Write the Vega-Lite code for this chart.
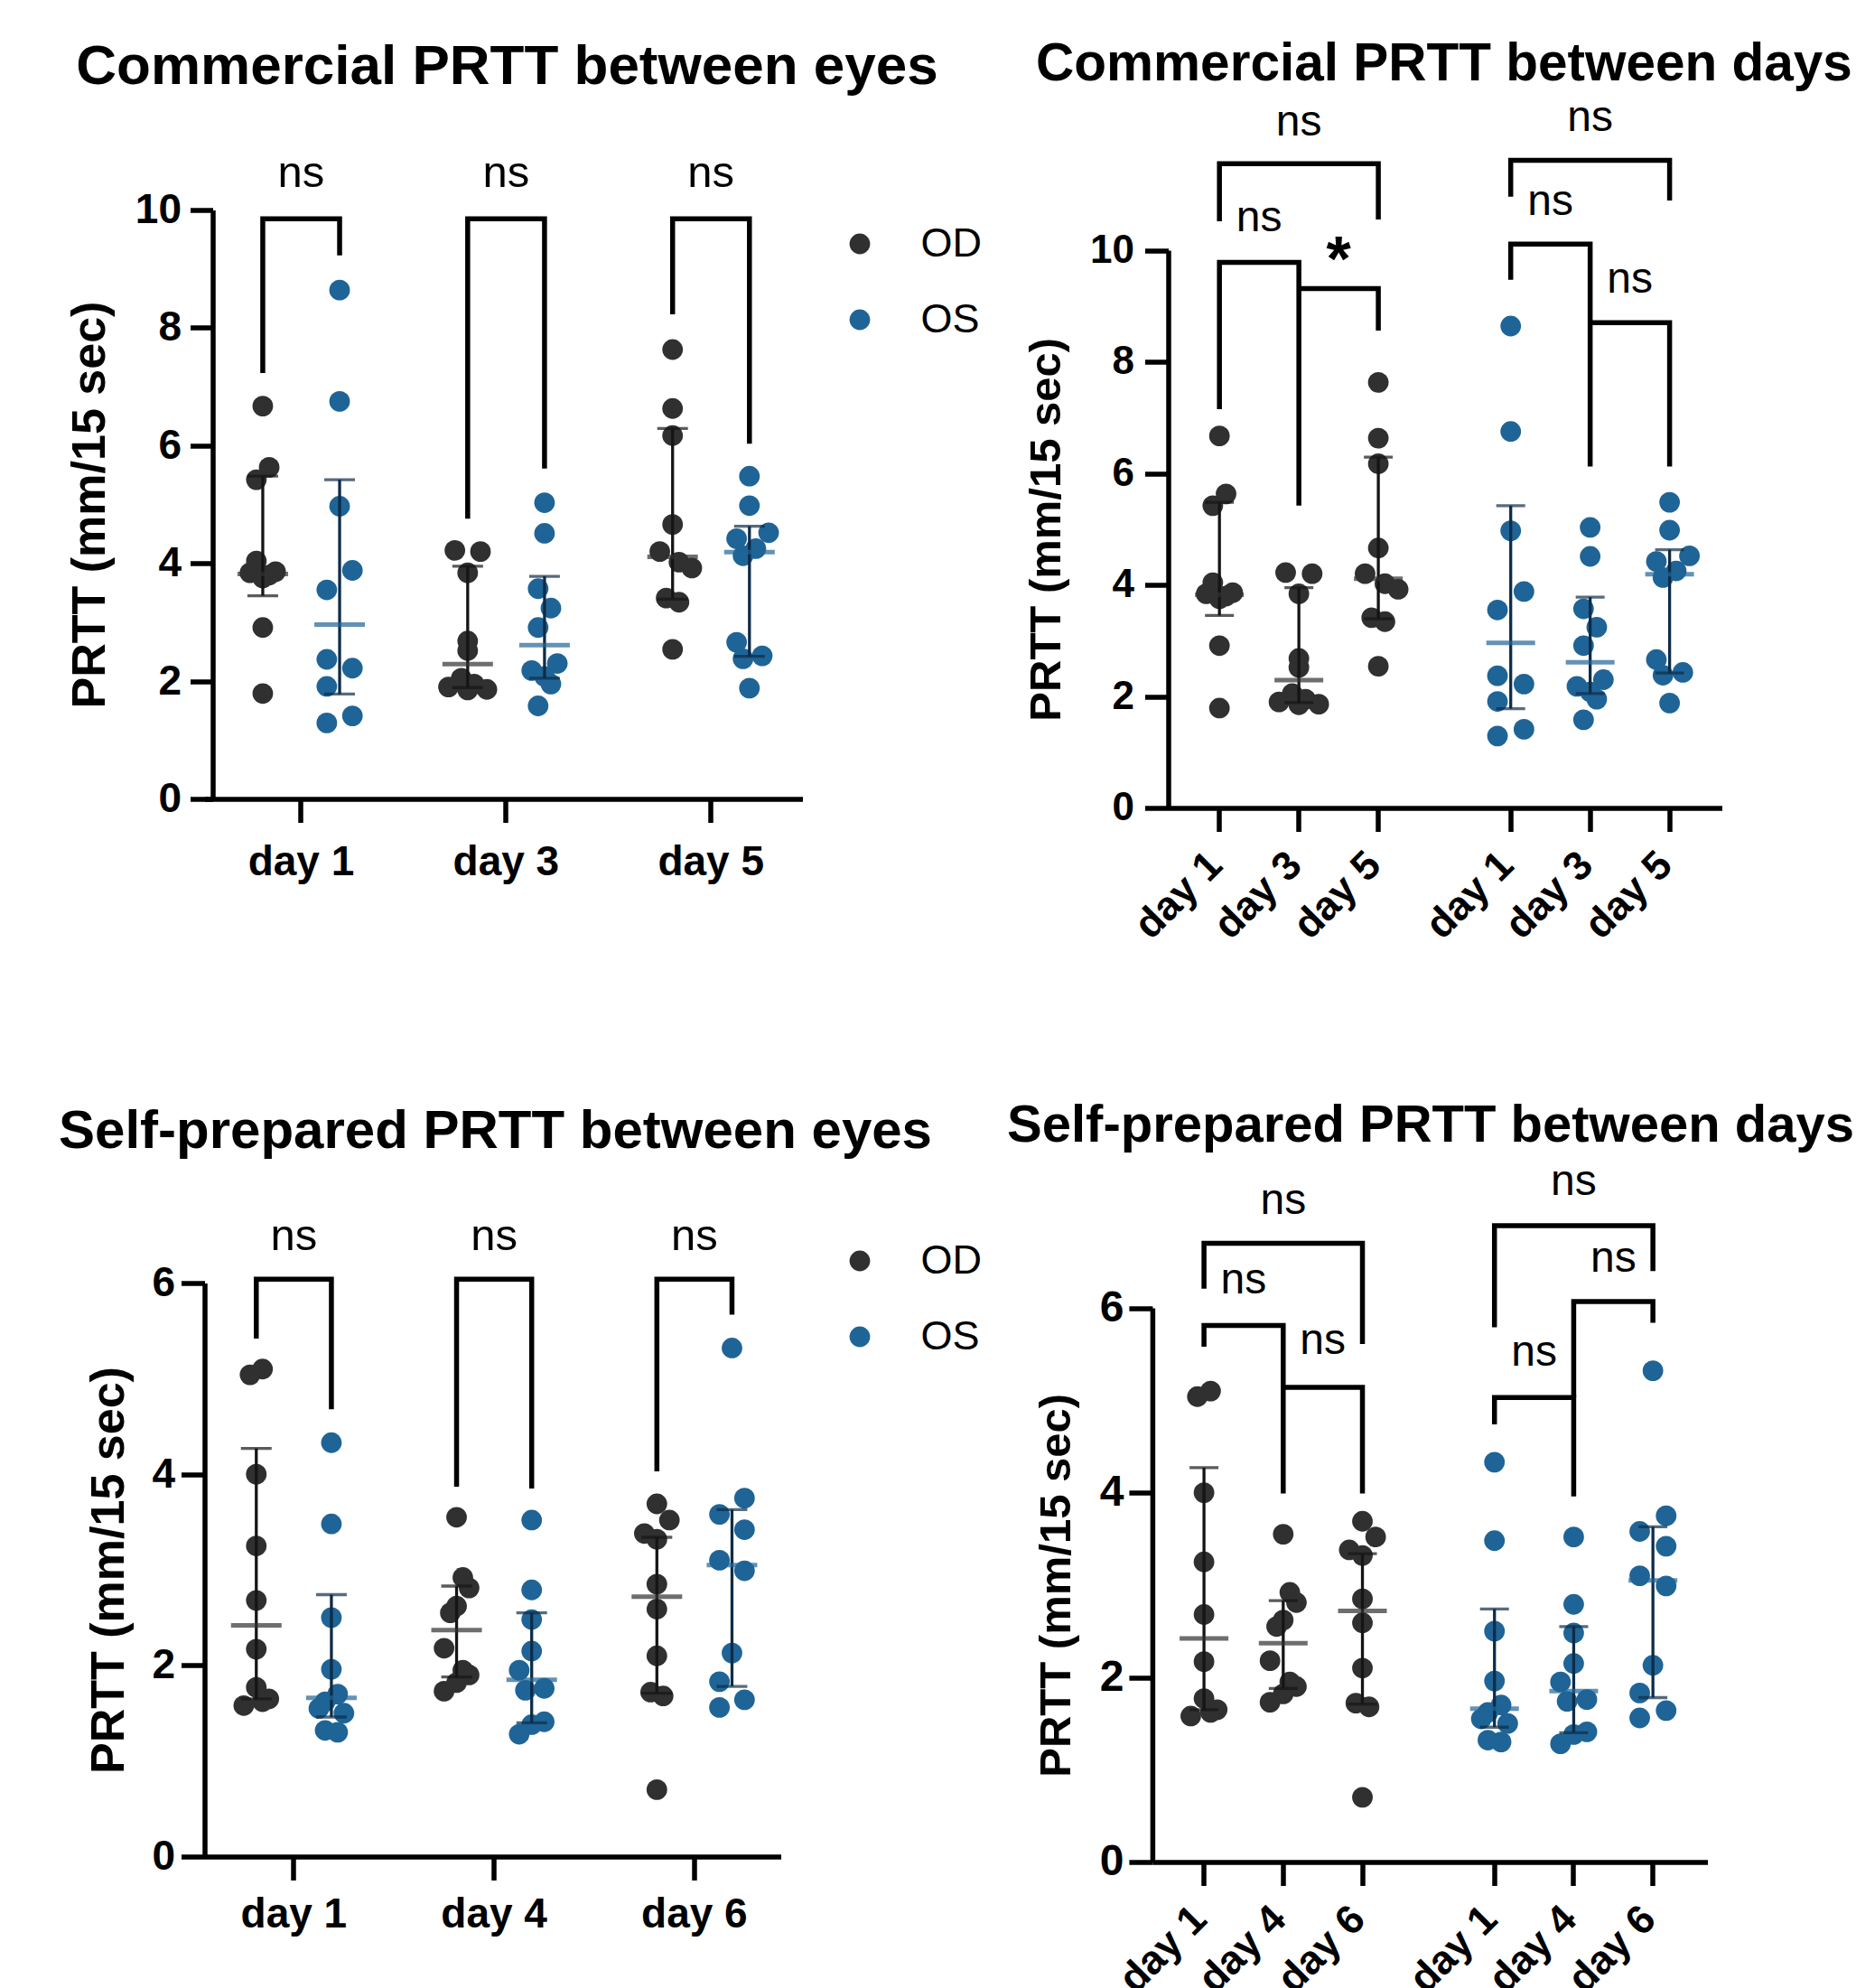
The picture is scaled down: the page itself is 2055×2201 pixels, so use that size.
{
  "$schema": "https://vega.github.io/schema/vega-lite/v6.json",
  "background": "white",
  "padding": {"left": 64.5, "top": 41.5, "right": 0, "bottom": 5},
  "columns": 2,
  "spacing": {"row": 526, "column": 405},
  "bounds": "flush",
  "resolve": {"legend": {"color": "independent"}},
  "datasets": {
    "com": [
      {"eye":"OD","day":"day 1","v":6.67,"k":"day 1|OD|0"},
      {"eye":"OD","day":"day 1","v":5.63,"k":"day 1|OD|1"},
      {"eye":"OD","day":"day 1","v":5.42,"k":"day 1|OD|-1"},
      {"eye":"OD","day":"day 1","v":4.04,"k":"day 1|OD|-1"},
      {"eye":"OD","day":"day 1","v":3.86,"k":"day 1|OD|2"},
      {"eye":"OD","day":"day 1","v":3.84,"k":"day 1|OD|-2"},
      {"eye":"OD","day":"day 1","v":3.80,"k":"day 1|OD|1"},
      {"eye":"OD","day":"day 1","v":3.75,"k":"day 1|OD|0"},
      {"eye":"OD","day":"day 1","v":2.91,"k":"day 1|OD|0"},
      {"eye":"OD","day":"day 1","v":1.79,"k":"day 1|OD|0"},
      {"eye":"OS","day":"day 1","v":8.64,"k":"day 1|OS|0"},
      {"eye":"OS","day":"day 1","v":6.75,"k":"day 1|OS|0"},
      {"eye":"OS","day":"day 1","v":4.97,"k":"day 1|OS|0"},
      {"eye":"OS","day":"day 1","v":3.88,"k":"day 1|OS|2"},
      {"eye":"OS","day":"day 1","v":3.55,"k":"day 1|OS|-2"},
      {"eye":"OS","day":"day 1","v":2.37,"k":"day 1|OS|-2"},
      {"eye":"OS","day":"day 1","v":2.22,"k":"day 1|OS|2"},
      {"eye":"OS","day":"day 1","v":1.91,"k":"day 1|OS|-2"},
      {"eye":"OS","day":"day 1","v":1.41,"k":"day 1|OS|2"},
      {"eye":"OS","day":"day 1","v":1.29,"k":"day 1|OS|-2"},
      {"eye":"OD","day":"day 3","v":4.22,"k":"day 3|OD|-2"},
      {"eye":"OD","day":"day 3","v":4.20,"k":"day 3|OD|2"},
      {"eye":"OD","day":"day 3","v":3.84,"k":"day 3|OD|0"},
      {"eye":"OD","day":"day 3","v":2.68,"k":"day 3|OD|0"},
      {"eye":"OD","day":"day 3","v":2.52,"k":"day 3|OD|0"},
      {"eye":"OD","day":"day 3","v":2.05,"k":"day 3|OD|-1"},
      {"eye":"OD","day":"day 3","v":1.95,"k":"day 3|OD|1"},
      {"eye":"OD","day":"day 3","v":1.90,"k":"day 3|OD|-3"},
      {"eye":"OD","day":"day 3","v":1.86,"k":"day 3|OD|3"},
      {"eye":"OD","day":"day 3","v":1.85,"k":"day 3|OD|0"},
      {"eye":"OS","day":"day 3","v":5.03,"k":"day 3|OS|0"},
      {"eye":"OS","day":"day 3","v":4.51,"k":"day 3|OS|0"},
      {"eye":"OS","day":"day 3","v":3.57,"k":"day 3|OS|-1"},
      {"eye":"OS","day":"day 3","v":3.24,"k":"day 3|OS|1"},
      {"eye":"OS","day":"day 3","v":2.91,"k":"day 3|OS|-1"},
      {"eye":"OS","day":"day 3","v":2.30,"k":"day 3|OS|2"},
      {"eye":"OS","day":"day 3","v":2.18,"k":"day 3|OS|-2"},
      {"eye":"OS","day":"day 3","v":2.08,"k":"day 3|OS|0"},
      {"eye":"OS","day":"day 3","v":1.95,"k":"day 3|OS|1"},
      {"eye":"OS","day":"day 3","v":1.58,"k":"day 3|OS|-1"},
      {"eye":"OD","day":"day 5","v":7.63,"k":"day 5|OD|0"},
      {"eye":"OD","day":"day 5","v":6.63,"k":"day 5|OD|0"},
      {"eye":"OD","day":"day 5","v":6.17,"k":"day 5|OD|0"},
      {"eye":"OD","day":"day 5","v":4.66,"k":"day 5|OD|0"},
      {"eye":"OD","day":"day 5","v":4.20,"k":"day 5|OD|-2"},
      {"eye":"OD","day":"day 5","v":4.02,"k":"day 5|OD|1"},
      {"eye":"OD","day":"day 5","v":3.92,"k":"day 5|OD|3"},
      {"eye":"OD","day":"day 5","v":3.41,"k":"day 5|OD|-1"},
      {"eye":"OD","day":"day 5","v":3.34,"k":"day 5|OD|1"},
      {"eye":"OD","day":"day 5","v":2.54,"k":"day 5|OD|0"},
      {"eye":"OS","day":"day 5","v":5.48,"k":"day 5|OS|0"},
      {"eye":"OS","day":"day 5","v":4.98,"k":"day 5|OS|0"},
      {"eye":"OS","day":"day 5","v":4.52,"k":"day 5|OS|3"},
      {"eye":"OS","day":"day 5","v":4.42,"k":"day 5|OS|-2"},
      {"eye":"OS","day":"day 5","v":4.25,"k":"day 5|OS|1"},
      {"eye":"OS","day":"day 5","v":4.13,"k":"day 5|OS|-1"},
      {"eye":"OS","day":"day 5","v":2.66,"k":"day 5|OS|-2"},
      {"eye":"OS","day":"day 5","v":2.43,"k":"day 5|OS|2"},
      {"eye":"OS","day":"day 5","v":2.38,"k":"day 5|OS|-1"},
      {"eye":"OS","day":"day 5","v":1.88,"k":"day 5|OS|0"}
    ],
    "comS": [
      {"eye":"OD","day":"day 1","med":3.82,"q1":3.45,"q3":5.48,"k":"day 1|OD|0"},
      {"eye":"OS","day":"day 1","med":2.96,"q1":1.78,"q3":5.42,"k":"day 1|OS|0"},
      {"eye":"OD","day":"day 3","med":2.29,"q1":1.89,"q3":3.95,"k":"day 3|OD|0"},
      {"eye":"OS","day":"day 3","med":2.61,"q1":2.05,"q3":3.78,"k":"day 3|OS|0"},
      {"eye":"OD","day":"day 5","med":4.11,"q1":3.39,"q3":6.29,"k":"day 5|OD|0"},
      {"eye":"OS","day":"day 5","med":4.19,"q1":2.42,"q3":4.63,"k":"day 5|OS|0"}
    ],
    "self": [
      {"eye":"OD","day":"day 1","v":5.10,"k":"day 1|OD|1"},
      {"eye":"OD","day":"day 1","v":5.04,"k":"day 1|OD|-1"},
      {"eye":"OD","day":"day 1","v":4.00,"k":"day 1|OD|0"},
      {"eye":"OD","day":"day 1","v":3.25,"k":"day 1|OD|0"},
      {"eye":"OD","day":"day 1","v":2.68,"k":"day 1|OD|0"},
      {"eye":"OD","day":"day 1","v":2.17,"k":"day 1|OD|0"},
      {"eye":"OD","day":"day 1","v":1.77,"k":"day 1|OD|0"},
      {"eye":"OD","day":"day 1","v":1.65,"k":"day 1|OD|2"},
      {"eye":"OD","day":"day 1","v":1.62,"k":"day 1|OD|1"},
      {"eye":"OD","day":"day 1","v":1.58,"k":"day 1|OD|-2"},
      {"eye":"OS","day":"day 1","v":4.33,"k":"day 1|OS|0"},
      {"eye":"OS","day":"day 1","v":3.48,"k":"day 1|OS|0"},
      {"eye":"OS","day":"day 1","v":2.50,"k":"day 1|OS|0"},
      {"eye":"OS","day":"day 1","v":1.96,"k":"day 1|OS|0"},
      {"eye":"OS","day":"day 1","v":1.70,"k":"day 1|OS|1"},
      {"eye":"OS","day":"day 1","v":1.62,"k":"day 1|OS|-1"},
      {"eye":"OS","day":"day 1","v":1.55,"k":"day 1|OS|-2"},
      {"eye":"OS","day":"day 1","v":1.50,"k":"day 1|OS|2"},
      {"eye":"OS","day":"day 1","v":1.32,"k":"day 1|OS|-1"},
      {"eye":"OS","day":"day 1","v":1.30,"k":"day 1|OS|1"},
      {"eye":"OD","day":"day 4","v":3.55,"k":"day 4|OD|0"},
      {"eye":"OD","day":"day 4","v":2.92,"k":"day 4|OD|1"},
      {"eye":"OD","day":"day 4","v":2.81,"k":"day 4|OD|2"},
      {"eye":"OD","day":"day 4","v":2.62,"k":"day 4|OD|0"},
      {"eye":"OD","day":"day 4","v":2.55,"k":"day 4|OD|-1"},
      {"eye":"OD","day":"day 4","v":2.18,"k":"day 4|OD|-2"},
      {"eye":"OD","day":"day 4","v":1.95,"k":"day 4|OD|1"},
      {"eye":"OD","day":"day 4","v":1.90,"k":"day 4|OD|2"},
      {"eye":"OD","day":"day 4","v":1.82,"k":"day 4|OD|0"},
      {"eye":"OD","day":"day 4","v":1.73,"k":"day 4|OD|-2"},
      {"eye":"OS","day":"day 4","v":3.52,"k":"day 4|OS|0"},
      {"eye":"OS","day":"day 4","v":2.79,"k":"day 4|OS|0"},
      {"eye":"OS","day":"day 4","v":2.48,"k":"day 4|OS|0"},
      {"eye":"OS","day":"day 4","v":2.15,"k":"day 4|OS|0"},
      {"eye":"OS","day":"day 4","v":1.95,"k":"day 4|OS|-2"},
      {"eye":"OS","day":"day 4","v":1.76,"k":"day 4|OS|2"},
      {"eye":"OS","day":"day 4","v":1.74,"k":"day 4|OS|-1"},
      {"eye":"OS","day":"day 4","v":1.41,"k":"day 4|OS|2"},
      {"eye":"OS","day":"day 4","v":1.38,"k":"day 4|OS|0"},
      {"eye":"OS","day":"day 4","v":1.28,"k":"day 4|OS|-2"},
      {"eye":"OD","day":"day 6","v":3.69,"k":"day 6|OD|0"},
      {"eye":"OD","day":"day 6","v":3.52,"k":"day 6|OD|2"},
      {"eye":"OD","day":"day 6","v":3.38,"k":"day 6|OD|-2"},
      {"eye":"OD","day":"day 6","v":3.32,"k":"day 6|OD|0"},
      {"eye":"OD","day":"day 6","v":2.85,"k":"day 6|OD|0"},
      {"eye":"OD","day":"day 6","v":2.59,"k":"day 6|OD|0"},
      {"eye":"OD","day":"day 6","v":2.10,"k":"day 6|OD|0"},
      {"eye":"OD","day":"day 6","v":1.72,"k":"day 6|OD|-1"},
      {"eye":"OD","day":"day 6","v":1.68,"k":"day 6|OD|1"},
      {"eye":"OD","day":"day 6","v":0.70,"k":"day 6|OD|0"},
      {"eye":"OS","day":"day 6","v":5.32,"k":"day 6|OS|0"},
      {"eye":"OS","day":"day 6","v":3.75,"k":"day 6|OS|2"},
      {"eye":"OS","day":"day 6","v":3.58,"k":"day 6|OS|-2"},
      {"eye":"OS","day":"day 6","v":3.42,"k":"day 6|OS|2"},
      {"eye":"OS","day":"day 6","v":3.10,"k":"day 6|OS|-2"},
      {"eye":"OS","day":"day 6","v":2.99,"k":"day 6|OS|2"},
      {"eye":"OS","day":"day 6","v":2.13,"k":"day 6|OS|0"},
      {"eye":"OS","day":"day 6","v":1.83,"k":"day 6|OS|-2"},
      {"eye":"OS","day":"day 6","v":1.64,"k":"day 6|OS|2"},
      {"eye":"OS","day":"day 6","v":1.56,"k":"day 6|OS|-2"}
    ],
    "selfS": [
      {"eye":"OD","day":"day 1","med":2.42,"q1":1.65,"q3":4.27,"k":"day 1|OD|0"},
      {"eye":"OS","day":"day 1","med":1.66,"q1":1.46,"q3":2.74,"k":"day 1|OS|0"},
      {"eye":"OD","day":"day 4","med":2.37,"q1":1.88,"q3":2.83,"k":"day 4|OD|0"},
      {"eye":"OS","day":"day 4","med":1.85,"q1":1.40,"q3":2.55,"k":"day 4|OS|0"},
      {"eye":"OD","day":"day 6","med":2.72,"q1":1.71,"q3":3.34,"k":"day 6|OD|0"},
      {"eye":"OS","day":"day 6","med":3.05,"q1":1.78,"q3":3.63,"k":"day 6|OS|0"}
    ],
    "br1": [
      {"b":1,"o":1,"k":"day 1|OD|0","v":7.23},
      {"b":1,"o":2,"k":"day 1|OD|0","v":9.85},
      {"b":1,"o":3,"k":"day 1|OS|0","v":9.85},
      {"b":1,"o":4,"k":"day 1|OS|0","v":9.23},
      {"b":2,"o":1,"k":"day 3|OD|0","v":4.76},
      {"b":2,"o":2,"k":"day 3|OD|0","v":9.85},
      {"b":2,"o":3,"k":"day 3|OS|0","v":9.85},
      {"b":2,"o":4,"k":"day 3|OS|0","v":5.61},
      {"b":3,"o":1,"k":"day 5|OD|0","v":8.23},
      {"b":3,"o":2,"k":"day 5|OD|0","v":9.85},
      {"b":3,"o":3,"k":"day 5|OS|0","v":9.85},
      {"b":3,"o":4,"k":"day 5|OS|0","v":6.03}
    ],
    "ns1": [
      {"k":"day 1|c","v":10.62,"t":"ns"},
      {"k":"day 3|c","v":10.62,"t":"ns"},
      {"k":"day 5|c","v":10.62,"t":"ns"}
    ],
    "br3": [
      {"b":1,"o":1,"k":"day 1|OD|0","v":5.42},
      {"b":1,"o":2,"k":"day 1|OD|0","v":6.04},
      {"b":1,"o":3,"k":"day 1|OS|0","v":6.04},
      {"b":1,"o":4,"k":"day 1|OS|0","v":4.68},
      {"b":2,"o":1,"k":"day 4|OD|0","v":3.87},
      {"b":2,"o":2,"k":"day 4|OD|0","v":6.04},
      {"b":2,"o":3,"k":"day 4|OS|0","v":6.04},
      {"b":2,"o":4,"k":"day 4|OS|0","v":3.85},
      {"b":3,"o":1,"k":"day 6|OD|0","v":4.03},
      {"b":3,"o":2,"k":"day 6|OD|0","v":6.04},
      {"b":3,"o":3,"k":"day 6|OS|0","v":6.04},
      {"b":3,"o":4,"k":"day 6|OS|0","v":5.67}
    ],
    "ns3": [
      {"k":"day 1|c","v":6.49,"t":"ns"},
      {"k":"day 4|c","v":6.49,"t":"ns"},
      {"k":"day 6|c","v":6.49,"t":"ns"}
    ],
    "br2": [
      {"b":"A","o":1,"k":"day 1|OD|0","v":7.15},
      {"b":"A","o":2,"k":"day 1|OD|0","v":9.78},
      {"b":"A","o":3,"k":"day 3|OD|0","v":9.78},
      {"b":"A","o":4,"k":"day 3|OD|0","v":5.42},
      {"b":"B","o":1,"k":"day 3|OD|0","v":9.31},
      {"b":"B","o":2,"k":"day 5|OD|0","v":9.31},
      {"b":"B","o":3,"k":"day 5|OD|0","v":8.56},
      {"b":"C","o":1,"k":"day 1|OD|0","v":10.52},
      {"b":"C","o":2,"k":"day 1|OD|0","v":11.55},
      {"b":"C","o":3,"k":"day 5|OD|0","v":11.55},
      {"b":"C","o":4,"k":"day 5|OD|0","v":10.55},
      {"b":"D","o":1,"k":"day 1|OS|0","v":9.47},
      {"b":"D","o":2,"k":"day 1|OS|0","v":10.11},
      {"b":"D","o":3,"k":"day 3|OS|0","v":10.11},
      {"b":"D","o":4,"k":"day 3|OS|0","v":6.12},
      {"b":"E","o":1,"k":"day 3|OS|0","v":8.70},
      {"b":"E","o":2,"k":"day 5|OS|0","v":8.70},
      {"b":"E","o":3,"k":"day 5|OS|0","v":6.12},
      {"b":"F","o":1,"k":"day 1|OS|0","v":10.96},
      {"b":"F","o":2,"k":"day 1|OS|0","v":11.61},
      {"b":"F","o":3,"k":"day 5|OS|0","v":11.61},
      {"b":"F","o":4,"k":"day 5|OS|0","v":10.89}
    ],
    "ns2": [
      {"k":"OD|a","v":10.57,"t":"ns"},
      {"k":"OD|b","v":9.98,"t":"*"},
      {"k":"day 3|OD|0","v":12.29,"t":"ns"},
      {"k":"OS|a","v":10.86,"t":"ns"},
      {"k":"OS|b","v":9.46,"t":"ns"},
      {"k":"day 3|OS|0","v":12.36,"t":"ns"}
    ],
    "br4": [
      {"b":"A","o":1,"k":"day 1|OD|0","v":5.58},
      {"b":"A","o":2,"k":"day 1|OD|0","v":5.81},
      {"b":"A","o":3,"k":"day 4|OD|0","v":5.81},
      {"b":"A","o":4,"k":"day 4|OD|0","v":3.99},
      {"b":"B","o":1,"k":"day 4|OD|0","v":5.14},
      {"b":"B","o":2,"k":"day 6|OD|0","v":5.14},
      {"b":"B","o":3,"k":"day 6|OD|0","v":3.99},
      {"b":"C","o":1,"k":"day 1|OD|0","v":6.21},
      {"b":"C","o":2,"k":"day 1|OD|0","v":6.70},
      {"b":"C","o":3,"k":"day 6|OD|0","v":6.70},
      {"b":"C","o":4,"k":"day 6|OD|0","v":5.61},
      {"b":"D","o":1,"k":"day 1|OS|0","v":4.74},
      {"b":"D","o":2,"k":"day 1|OS|0","v":5.03},
      {"b":"D","o":3,"k":"day 4|OS|0","v":5.03},
      {"b":"D","o":4,"k":"day 4|OS|0","v":3.96},
      {"b":"E","o":1,"k":"day 4|OS|0","v":5.03},
      {"b":"E","o":2,"k":"day 4|OS|0","v":6.07},
      {"b":"E","o":3,"k":"day 6|OS|0","v":6.07},
      {"b":"E","o":4,"k":"day 6|OS|0","v":5.84},
      {"b":"F","o":1,"k":"day 1|OS|0","v":5.79},
      {"b":"F","o":2,"k":"day 1|OS|0","v":6.89},
      {"b":"F","o":3,"k":"day 6|OS|0","v":6.89},
      {"b":"F","o":4,"k":"day 6|OS|0","v":6.40}
    ],
    "ns4": [
      {"k":"OD|a","v":6.29,"t":"ns"},
      {"k":"OD|b","v":5.64,"t":"ns"},
      {"k":"day 4|OD|0","v":7.16,"t":"ns"},
      {"k":"OS|a","v":5.51,"t":"ns"},
      {"k":"OS|b","v":6.53,"t":"ns"},
      {"k":"day 4|OS|0","v":7.36,"t":"ns"}
    ]
  },
  "concat": [
    {
      "width": 662, "height": 652,
      "title": {"text": "Commercial PRTT between eyes", "fontSize": 62, "offset": 13, "dx": 4, "frame": "group", "baseline": "alphabetic"},
      "layer": [
        {
          "data": {"name": "com"},
          "mark": {"type": "circle", "size": 520, "opacity": 1},
          "encoding": {
            "x": {"field": "k", "type": "nominal", "scale": {"type": "band", "paddingInner": 0, "paddingOuter": 0.685, "align": 0.43,
                  "domain": ["f0","f1","f2","f3","f4","day 1|OD|-3","day 1|OD|-2","day 1|OD|-1","day 1|OD|0","day 1|OD|1","day 1|OD|2","day 1|OD|3","day 1|g1","day 1|g2","day 1|c","day 1|g4","day 1|g5","day 1|OS|-3","day 1|OS|-2","day 1|OS|-1","day 1|OS|0","day 1|OS|1","day 1|OS|2","day 1|OS|3","f5","f6","f7","f8","f9","f10","f11","f12","f13","f14","f15","f16","f17","day 3|OD|-3","day 3|OD|-2","day 3|OD|-1","day 3|OD|0","day 3|OD|1","day 3|OD|2","day 3|OD|3","day 3|g1","day 3|g2","day 3|c","day 3|g4","day 3|g5","day 3|OS|-3","day 3|OS|-2","day 3|OS|-1","day 3|OS|0","day 3|OS|1","day 3|OS|2","day 3|OS|3","f18","f19","f20","f21","f22","f23","f24","f25","f26","f27","f28","f29","f30","day 5|OD|-3","day 5|OD|-2","day 5|OD|-1","day 5|OD|0","day 5|OD|1","day 5|OD|2","day 5|OD|3","day 5|g1","day 5|g2","day 5|c","day 5|g4","day 5|g5","day 5|OS|-3","day 5|OS|-2","day 5|OS|-1","day 5|OS|0","day 5|OS|1","day 5|OS|2","day 5|OS|3","f31","f32","f33","f34"]},
                  "axis": {"title": null, "values": ["day 1|c","day 3|c","day 5|c"], "labelExpr": "split(datum.value, '|')[0]", "labelAngle": 0, "labelOverlap": false, "labelFontSize": 46, "labelPadding": 22, "tickSize": 26}},
            "y": {"field": "v", "type": "quantitative", "scale": {"domain": [0, 10], "nice": false, "zero": false},
                  "axis": {"title": "PRTT (mm/15 sec)", "values": [0,2,4,6,8,10], "format": "d", "offset": -9, "labelFontSize": 46, "labelPadding": 10, "tickSize": 25, "titleFontSize": 52, "titlePadding": 23}},
            "color": {"field": "eye", "type": "nominal", "scale": {"domain": ["OD","OS"], "range": ["#303030","#1f6496"]},
                      "legend": {"orient": "none", "legendX": 703, "legendY": 15, "title": null, "symbolType": "circle", "symbolSize": 520, "symbolStrokeWidth": 0, "symbolOpacity": 1, "labelFontSize": 45, "labelFontWeight": "normal", "labelColor": "black", "labelOffset": 45, "rowPadding": 38, "padding": 0}}
          }
        },
        {
          "data": {"name": "comS"},
          "mark": {"type": "rule", "strokeWidth": 3.3},
          "encoding": {
            "x": {"field": "k", "type": "nominal"},
            "y": {"field": "q1", "type": "quantitative"},
            "y2": {"field": "q3"},
            "stroke": {"field": "eye", "type": "nominal", "scale": {"domain": ["OD","OS"], "range": ["#151515","#0e2c48"]}, "legend": null}
          }
        },
        {
          "data": {"name": "comS"},
          "mark": {"type": "tick", "size": 34, "thickness": 3.3},
          "encoding": {
            "x": {"field": "k", "type": "nominal"},
            "y": {"field": "q1", "type": "quantitative"},
            "fill": {"field": "eye", "type": "nominal", "scale": {"domain": ["OD","OS"], "range": ["#151515","#0e2c48"]}, "legend": null}
          }
        },
        {
          "data": {"name": "comS"},
          "mark": {"type": "tick", "size": 34, "thickness": 3.3},
          "encoding": {
            "x": {"field": "k", "type": "nominal"},
            "y": {"field": "q3", "type": "quantitative"},
            "fill": {"field": "eye", "type": "nominal", "legend": null}
          }
        },
        {
          "data": {"name": "comS"},
          "mark": {"type": "tick", "size": 56, "thickness": 5},
          "encoding": {
            "x": {"field": "k", "type": "nominal"},
            "y": {"field": "med", "type": "quantitative"},
            "color": {"field": "eye", "type": "nominal", "legend": null}
          }
        },
        {
          "data": {"name": "br1"},
          "mark": {"type": "line", "strokeWidth": 5.5, "color": "black", "strokeJoin": "miter", "strokeCap": "butt"},
          "encoding": {
            "x": {"field": "k", "type": "nominal"},
            "y": {"field": "v", "type": "quantitative"},
            "detail": {"field": "b"},
            "order": {"field": "o"}
          }
        },
        {
          "data": {"name": "ns1"},
          "mark": {"type": "text", "fontSize": 49, "baseline": "middle", "color": "black"},
          "encoding": {
            "x": {"field": "k", "type": "nominal"},
            "y": {"field": "v", "type": "quantitative"},
            "text": {"field": "t"}
          }
        }
      ]
    },
    {
      "width": 613, "height": 662,
      "title": {"text": "Commercial PRTT between days", "fontSize": 58.5, "offset": -40.5, "dx": -1, "frame": "group", "baseline": "alphabetic"},
      "layer": [
        {
          "data": {"name": "com"},
          "mark": {"type": "circle", "size": 520, "opacity": 1},
          "encoding": {
            "x": {"field": "k", "type": "nominal", "scale": {"type": "band", "paddingInner": 0, "paddingOuter": 0.315, "align": 0.37,
                  "domain": ["f0","f1","f2","f3","day 1|OD|-3","day 1|OD|-2","day 1|OD|-1","day 1|OD|0","day 1|OD|1","day 1|OD|2","day 1|OD|3","OD|a1","OD|a2","OD|a","OD|a4","OD|a5","day 3|OD|-3","day 3|OD|-2","day 3|OD|-1","day 3|OD|0","day 3|OD|1","day 3|OD|2","day 3|OD|3","OD|b1","OD|b2","OD|b","OD|b4","OD|b5","day 5|OD|-3","day 5|OD|-2","day 5|OD|-1","day 5|OD|0","day 5|OD|1","day 5|OD|2","day 5|OD|3","f4","f5","f6","f7","f8","f9","f10","f11","f12","f13","f14","f15","f16","day 1|OS|-3","day 1|OS|-2","day 1|OS|-1","day 1|OS|0","day 1|OS|1","day 1|OS|2","day 1|OS|3","OS|a1","OS|a2","OS|a","OS|a4","OS|a5","day 3|OS|-3","day 3|OS|-2","day 3|OS|-1","day 3|OS|0","day 3|OS|1","day 3|OS|2","day 3|OS|3","OS|b1","OS|b2","OS|b","OS|b4","OS|b5","day 5|OS|-3","day 5|OS|-2","day 5|OS|-1","day 5|OS|0","day 5|OS|1","day 5|OS|2","day 5|OS|3","f17","f18","f19","f20"]},
                  "axis": {"title": null, "values": ["day 1|OD|0","day 3|OD|0","day 5|OD|0","day 1|OS|0","day 3|OS|0","day 5|OS|0"], "labelExpr": "split(datum.value, '|')[0]", "labelAngle": -45, "labelAlign": "right", "labelBaseline": "top", "labelOverlap": false, "labelFontSize": 45, "labelPadding": 14, "labelOffset": -20, "tickSize": 26}},
            "y": {"field": "v", "type": "quantitative", "scale": {"domain": [0, 10], "nice": false, "zero": false, "range": [662, 44.5]},
                  "axis": {"title": "PRTT (mm/15 sec)", "values": [0,2,4,6,8,10], "format": "d", "labelFontSize": 44, "labelPadding": 12, "tickSize": 26, "titleFontSize": 49, "titlePadding": 23}},
            "color": {"field": "eye", "type": "nominal", "scale": {"domain": ["OD","OS"], "range": ["#303030","#1f6496"]}, "legend": null}
          }
        },
        {
          "data": {"name": "comS"},
          "mark": {"type": "rule", "strokeWidth": 3.3},
          "encoding": {
            "x": {"field": "k", "type": "nominal"},
            "y": {"field": "q1", "type": "quantitative"},
            "y2": {"field": "q3"},
            "stroke": {"field": "eye", "type": "nominal", "scale": {"domain": ["OD","OS"], "range": ["#151515","#0e2c48"]}, "legend": null}
          }
        },
        {
          "data": {"name": "comS"},
          "mark": {"type": "tick", "size": 32, "thickness": 3.3},
          "encoding": {
            "x": {"field": "k", "type": "nominal"},
            "y": {"field": "q1", "type": "quantitative"},
            "fill": {"field": "eye", "type": "nominal", "scale": {"domain": ["OD","OS"], "range": ["#151515","#0e2c48"]}, "legend": null}
          }
        },
        {
          "data": {"name": "comS"},
          "mark": {"type": "tick", "size": 32, "thickness": 3.3},
          "encoding": {
            "x": {"field": "k", "type": "nominal"},
            "y": {"field": "q3", "type": "quantitative"},
            "fill": {"field": "eye", "type": "nominal", "legend": null}
          }
        },
        {
          "data": {"name": "comS"},
          "mark": {"type": "tick", "size": 54, "thickness": 5},
          "encoding": {
            "x": {"field": "k", "type": "nominal"},
            "y": {"field": "med", "type": "quantitative"},
            "color": {"field": "eye", "type": "nominal", "legend": null}
          }
        },
        {
          "data": {"name": "br2"},
          "mark": {"type": "line", "strokeWidth": 5.5, "color": "black", "strokeJoin": "miter", "strokeCap": "butt"},
          "encoding": {
            "x": {"field": "k", "type": "nominal"},
            "y": {"field": "v", "type": "quantitative"},
            "detail": {"field": "b"},
            "order": {"field": "o"}
          }
        },
        {
          "data": {"name": "ns2"},
          "transform": [{"filter": "datum.t == 'ns'"}],
          "mark": {"type": "text", "fontSize": 48, "baseline": "middle", "color": "black"},
          "encoding": {
            "x": {"field": "k", "type": "nominal"},
            "y": {"field": "v", "type": "quantitative"},
            "text": {"field": "t"}
          }
        },
        {
          "data": {"name": "ns2"},
          "transform": [{"filter": "datum.t == '*'"}],
          "mark": {"type": "text", "fontSize": 70, "fontWeight": "bold", "baseline": "middle", "dy": 12, "color": "black"},
          "encoding": {
            "x": {"field": "k", "type": "nominal"},
            "y": {"field": "v", "type": "quantitative"},
            "text": {"field": "t"}
          }
        }
      ]
    },
    {
      "width": 638, "height": 635,
      "title": {"text": "Self-prepared PRTT between eyes", "fontSize": 60, "offset": 14, "dx": 3, "frame": "group", "baseline": "alphabetic"},
      "layer": [
        {
          "data": {"name": "self"},
          "mark": {"type": "circle", "size": 520, "opacity": 1},
          "encoding": {
            "x": {"field": "k", "type": "nominal", "scale": {"type": "band", "paddingInner": 0, "paddingOuter": 0.53, "align": 0.72,
                  "domain": ["f0","f1","f2","f3","day 1|OD|-3","day 1|OD|-2","day 1|OD|-1","day 1|OD|0","day 1|OD|1","day 1|OD|2","day 1|OD|3","day 1|g1","day 1|g2","day 1|c","day 1|g4","day 1|g5","day 1|OS|-3","day 1|OS|-2","day 1|OS|-1","day 1|OS|0","day 1|OS|1","day 1|OS|2","day 1|OS|3","f4","f5","f6","f7","f8","f9","f10","f11","f12","f13","f14","f15","f16","day 4|OD|-3","day 4|OD|-2","day 4|OD|-1","day 4|OD|0","day 4|OD|1","day 4|OD|2","day 4|OD|3","day 4|g1","day 4|g2","day 4|c","day 4|g4","day 4|g5","day 4|OS|-3","day 4|OS|-2","day 4|OS|-1","day 4|OS|0","day 4|OS|1","day 4|OS|2","day 4|OS|3","f17","f18","f19","f20","f21","f22","f23","f24","f25","f26","f27","f28","f29","day 6|OD|-3","day 6|OD|-2","day 6|OD|-1","day 6|OD|0","day 6|OD|1","day 6|OD|2","day 6|OD|3","day 6|g1","day 6|g2","day 6|c","day 6|g4","day 6|g5","day 6|OS|-3","day 6|OS|-2","day 6|OS|-1","day 6|OS|0","day 6|OS|1","day 6|OS|2","day 6|OS|3","f30","f31","f32","f33"]},
                  "axis": {"title": null, "values": ["day 1|c","day 4|c","day 6|c"], "labelExpr": "split(datum.value, '|')[0]", "labelAngle": 0, "labelOverlap": false, "labelFontSize": 46, "labelPadding": 16, "tickSize": 26}},
            "y": {"field": "v", "type": "quantitative", "scale": {"domain": [0, 6], "nice": false, "zero": false},
                  "axis": {"title": "PRTT (mm/15 sec)", "values": [0,2,4,6], "format": "d", "labelFontSize": 46, "labelPadding": 7, "tickSize": 26, "titleFontSize": 52, "titlePadding": 20}},
            "color": {"field": "eye", "type": "nominal", "scale": {"domain": ["OD","OS"], "range": ["#303030","#1f6496"]},
                      "legend": {"orient": "none", "legendX": 703, "legendY": -47, "title": null, "symbolType": "circle", "symbolSize": 520, "symbolStrokeWidth": 0, "symbolOpacity": 1, "labelFontSize": 45, "labelFontWeight": "normal", "labelColor": "black", "labelOffset": 45, "rowPadding": 38, "padding": 0}}
          }
        },
        {
          "data": {"name": "selfS"},
          "mark": {"type": "rule", "strokeWidth": 3.3},
          "encoding": {
            "x": {"field": "k", "type": "nominal"},
            "y": {"field": "q1", "type": "quantitative"},
            "y2": {"field": "q3"},
            "stroke": {"field": "eye", "type": "nominal", "scale": {"domain": ["OD","OS"], "range": ["#151515","#0e2c48"]}, "legend": null}
          }
        },
        {
          "data": {"name": "selfS"},
          "mark": {"type": "tick", "size": 34, "thickness": 3.3},
          "encoding": {
            "x": {"field": "k", "type": "nominal"},
            "y": {"field": "q1", "type": "quantitative"},
            "fill": {"field": "eye", "type": "nominal", "scale": {"domain": ["OD","OS"], "range": ["#151515","#0e2c48"]}, "legend": null}
          }
        },
        {
          "data": {"name": "selfS"},
          "mark": {"type": "tick", "size": 34, "thickness": 3.3},
          "encoding": {
            "x": {"field": "k", "type": "nominal"},
            "y": {"field": "q3", "type": "quantitative"},
            "fill": {"field": "eye", "type": "nominal", "legend": null}
          }
        },
        {
          "data": {"name": "selfS"},
          "mark": {"type": "tick", "size": 56, "thickness": 5},
          "encoding": {
            "x": {"field": "k", "type": "nominal"},
            "y": {"field": "med", "type": "quantitative"},
            "color": {"field": "eye", "type": "nominal", "legend": null}
          }
        },
        {
          "data": {"name": "br3"},
          "mark": {"type": "line", "strokeWidth": 5.5, "color": "black", "strokeJoin": "miter", "strokeCap": "butt"},
          "encoding": {
            "x": {"field": "k", "type": "nominal"},
            "y": {"field": "v", "type": "quantitative"},
            "detail": {"field": "b"},
            "order": {"field": "o"}
          }
        },
        {
          "data": {"name": "ns3"},
          "mark": {"type": "text", "fontSize": 49, "baseline": "middle", "color": "black"},
          "encoding": {
            "x": {"field": "k", "type": "nominal"},
            "y": {"field": "v", "type": "quantitative"},
            "text": {"field": "t"}
          }
        }
      ]
    },
    {
      "width": 597, "height": 641,
      "title": {"text": "Self-prepared PRTT between days", "fontSize": 58, "offset": -37, "dx": -8, "frame": "group", "baseline": "alphabetic"},
      "layer": [
        {
          "data": {"name": "self"},
          "mark": {"type": "circle", "size": 520, "opacity": 1},
          "encoding": {
            "x": {"field": "k", "type": "nominal", "scale": {"type": "band", "paddingInner": 0, "paddingOuter": 0.54, "align": 0.3, "range": [-17.6, 597],
                  "domain": ["f0","f1","f2","f3","day 1|OD|-3","day 1|OD|-2","day 1|OD|-1","day 1|OD|0","day 1|OD|1","day 1|OD|2","day 1|OD|3","OD|a1","OD|a2","OD|a","OD|a4","OD|a5","day 4|OD|-3","day 4|OD|-2","day 4|OD|-1","day 4|OD|0","day 4|OD|1","day 4|OD|2","day 4|OD|3","OD|b1","OD|b2","OD|b","OD|b4","OD|b5","day 6|OD|-3","day 6|OD|-2","day 6|OD|-1","day 6|OD|0","day 6|OD|1","day 6|OD|2","day 6|OD|3","f4","f5","f6","f7","f8","f9","f10","f11","f12","f13","f14","f15","f16","day 1|OS|-3","day 1|OS|-2","day 1|OS|-1","day 1|OS|0","day 1|OS|1","day 1|OS|2","day 1|OS|3","OS|a1","OS|a2","OS|a","OS|a4","OS|a5","day 4|OS|-3","day 4|OS|-2","day 4|OS|-1","day 4|OS|0","day 4|OS|1","day 4|OS|2","day 4|OS|3","OS|b1","OS|b2","OS|b","OS|b4","OS|b5","day 6|OS|-3","day 6|OS|-2","day 6|OS|-1","day 6|OS|0","day 6|OS|1","day 6|OS|2","day 6|OS|3","f17","f18","f19","f20"]},
                  "axis": {"title": null, "values": ["day 1|OD|0","day 4|OD|0","day 6|OD|0","day 1|OS|0","day 4|OS|0","day 6|OS|0"], "labelExpr": "split(datum.value, '|')[0]", "labelAngle": -45, "labelAlign": "right", "labelBaseline": "top", "labelOverlap": false, "labelFontSize": 45, "labelPadding": 14, "labelOffset": -20, "tickSize": 26}},
            "y": {"field": "v", "type": "quantitative", "scale": {"domain": [0, 6], "nice": false, "zero": false, "range": [641, 27.6]},
                  "axis": {"title": "PRTT (mm/15 sec)", "values": [0,2,4,6], "format": "d", "offset": 17.6, "labelFontSize": 48, "labelPadding": 6, "tickSize": 26, "titleFontSize": 49, "titlePadding": 23}},
            "color": {"field": "eye", "type": "nominal", "scale": {"domain": ["OD","OS"], "range": ["#303030","#1f6496"]}, "legend": null}
          }
        },
        {
          "data": {"name": "selfS"},
          "mark": {"type": "rule", "strokeWidth": 3.3},
          "encoding": {
            "x": {"field": "k", "type": "nominal"},
            "y": {"field": "q1", "type": "quantitative"},
            "y2": {"field": "q3"},
            "stroke": {"field": "eye", "type": "nominal", "scale": {"domain": ["OD","OS"], "range": ["#151515","#0e2c48"]}, "legend": null}
          }
        },
        {
          "data": {"name": "selfS"},
          "mark": {"type": "tick", "size": 32, "thickness": 3.3},
          "encoding": {
            "x": {"field": "k", "type": "nominal"},
            "y": {"field": "q1", "type": "quantitative"},
            "fill": {"field": "eye", "type": "nominal", "scale": {"domain": ["OD","OS"], "range": ["#151515","#0e2c48"]}, "legend": null}
          }
        },
        {
          "data": {"name": "selfS"},
          "mark": {"type": "tick", "size": 32, "thickness": 3.3},
          "encoding": {
            "x": {"field": "k", "type": "nominal"},
            "y": {"field": "q3", "type": "quantitative"},
            "fill": {"field": "eye", "type": "nominal", "legend": null}
          }
        },
        {
          "data": {"name": "selfS"},
          "mark": {"type": "tick", "size": 54, "thickness": 5},
          "encoding": {
            "x": {"field": "k", "type": "nominal"},
            "y": {"field": "med", "type": "quantitative"},
            "color": {"field": "eye", "type": "nominal", "legend": null}
          }
        },
        {
          "data": {"name": "br4"},
          "mark": {"type": "line", "strokeWidth": 5.5, "color": "black", "strokeJoin": "miter", "strokeCap": "butt"},
          "encoding": {
            "x": {"field": "k", "type": "nominal"},
            "y": {"field": "v", "type": "quantitative"},
            "detail": {"field": "b"},
            "order": {"field": "o"}
          }
        },
        {
          "data": {"name": "ns4"},
          "mark": {"type": "text", "fontSize": 48, "baseline": "middle", "color": "black"},
          "encoding": {
            "x": {"field": "k", "type": "nominal"},
            "y": {"field": "v", "type": "quantitative"},
            "text": {"field": "t"}
          }
        }
      ]
    }
  ],
  "config": {
    "view": {"stroke": null},
    "font": "Liberation Sans",
    "title": {"font": "Liberation Sans", "fontWeight": "bold", "color": "black"},
    "text": {"font": "Liberation Sans"},
    "legend": {"labelFont": "Liberation Sans"},
    "axis": {"domainColor": "black", "domainWidth": 5.5, "tickColor": "black", "tickWidth": 5.5, "labelColor": "black", "titleColor": "black", "labelFont": "Liberation Sans", "titleFont": "Liberation Sans", "labelFontWeight": "bold", "titleFontWeight": "bold", "grid": false}
  }
}
